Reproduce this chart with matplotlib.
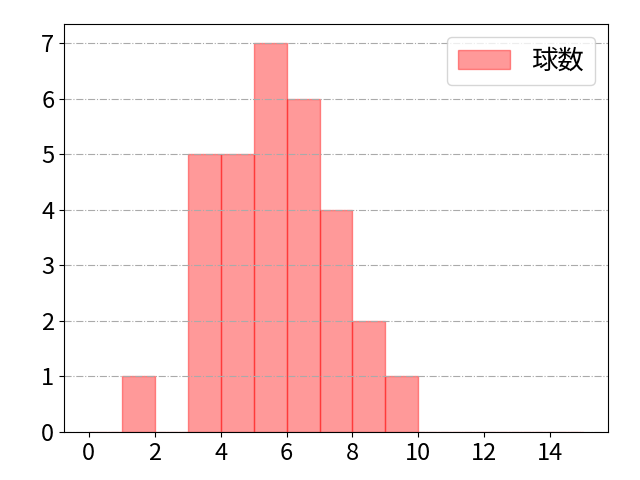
import matplotlib
matplotlib.use("Agg")
import matplotlib.pyplot as plt
import numpy as np

plt.rcParams['font.family'] = ['Noto Sans CJK JP', 'DejaVu Sans']
plt.rcParams['font.size'] = 17

bin_edges = list(range(0, 16))
counts = [0, 1, 0, 5, 5, 7, 6, 4, 2, 1, 0, 0, 0, 0, 0]
label = '球数'

fig, ax = plt.subplots(figsize=(6.4, 4.8), dpi=100)
ax.hist(bin_edges[:-1], bins=bin_edges, weights=counts, color='red', alpha=0.4,
        edgecolor='red', label=label)
ax.grid(axis='y', linestyle='-.', color='#aaaaaa', linewidth=0.8)
ax.set_xticks([0, 2, 4, 6, 8, 10, 12, 14])
ax.set_yticks(range(0, 8))
ax.legend(loc='upper right', fontsize=19)
fig.subplots_adjust(left=0.1, right=0.95, top=0.95, bottom=0.1)
fig.savefig('out.png')
